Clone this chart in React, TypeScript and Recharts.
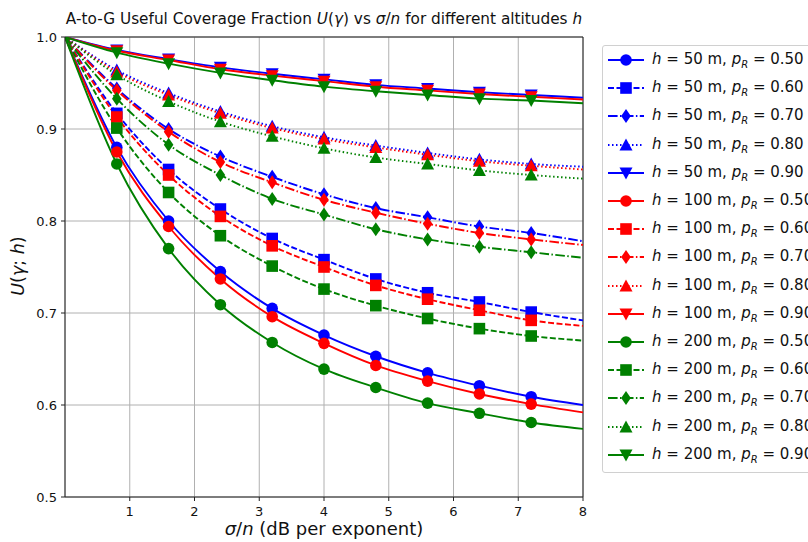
import React from "react";
import { CartesianGrid, Line, LineChart, ReferenceLine, XAxis, YAxis } from "recharts";

document.body.style.margin = "0";

// sigma/n sample points (markers drawn at the inner ones)
const X_VALUES = [0, 0.8, 1.6, 2.4, 3.2, 4.0, 4.8, 5.6, 6.4, 7.2, 8.0];

const ALTITUDES = [50, 100, 200];
const P_R = ["0.50", "0.60", "0.70", "0.80", "0.90"];

const h50_p50 = [1, 0.880, 0.800, 0.745, 0.705, 0.676, 0.653, 0.635, 0.621, 0.609, 0.600];
const h50_p60 = [1, 0.917, 0.856, 0.813, 0.781, 0.758, 0.737, 0.722, 0.712, 0.701, 0.692];
const h50_p70 = [1, 0.944, 0.900, 0.870, 0.848, 0.829, 0.814, 0.804, 0.794, 0.787, 0.778];
const h50_p80 = [1, 0.964, 0.939, 0.919, 0.903, 0.891, 0.882, 0.874, 0.867, 0.862, 0.859];
const h50_p90 = [1, 0.986, 0.976, 0.967, 0.960, 0.954, 0.948, 0.944, 0.940, 0.937, 0.934];

const h100_p50 = [1, 0.875, 0.794, 0.737, 0.696, 0.667, 0.643, 0.626, 0.612, 0.601, 0.592];
const h100_p60 = [1, 0.913, 0.850, 0.805, 0.773, 0.750, 0.730, 0.715, 0.703, 0.692, 0.686];
const h100_p70 = [1, 0.942, 0.897, 0.864, 0.842, 0.823, 0.809, 0.797, 0.787, 0.780, 0.774];
const h100_p80 = [1, 0.962, 0.937, 0.917, 0.901, 0.889, 0.880, 0.872, 0.865, 0.860, 0.856];
const h100_p90 = [1, 0.985, 0.975, 0.965, 0.958, 0.952, 0.946, 0.942, 0.938, 0.935, 0.932];

const h200_p50 = [1, 0.862, 0.770, 0.709, 0.668, 0.639, 0.619, 0.602, 0.591, 0.581, 0.574];
const h200_p60 = [1, 0.901, 0.831, 0.784, 0.751, 0.726, 0.708, 0.694, 0.683, 0.675, 0.670];
const h200_p70 = [1, 0.933, 0.883, 0.850, 0.824, 0.807, 0.791, 0.780, 0.772, 0.766, 0.760];
const h200_p80 = [1, 0.959, 0.930, 0.908, 0.892, 0.879, 0.869, 0.862, 0.855, 0.850, 0.846];
const h200_p90 = [1, 0.983, 0.971, 0.961, 0.953, 0.946, 0.941, 0.937, 0.933, 0.931, 0.928];

const SERIES_VALUES = [
  [h50_p50, h50_p60, h50_p70, h50_p80, h50_p90],
  [h100_p50, h100_p60, h100_p70, h100_p80, h100_p90],
  [h200_p50, h200_p60, h200_p70, h200_p80, h200_p90],
];

const X_TICKS = [1, 2, 3, 4, 5, 6, 7, 8];
const Y_TICKS = [0.5, 0.6, 0.7, 0.8, 0.9, 1.0];

const COLORS = ["#0000ff", "#ff0000", "#008000"];
const MARKERS = ["circle", "square", "diamond", "triangleUp", "triangleDown"];
const DASHES = [undefined, "6 2.5", "9.6 2.4 1.5 2.4", "1.5 2.5", undefined];

const FONT = "'DejaVu Sans', sans-serif";

type SeriesDef = { key: string; color: string; marker: string; dash?: string; h: number; p: string };

const series: SeriesDef[] = [];
ALTITUDES.forEach((h, hi) => {
  P_R.forEach((p, pi) => {
    series.push({ key: `h${h}_p${pi}`, color: COLORS[hi], marker: MARKERS[pi], dash: DASHES[pi], h, p });
  });
});

const data = X_VALUES.map((x, i) => {
  const row: Record<string, number> = { x };
  ALTITUDES.forEach((h, hi) => {
    P_R.forEach((_, pi) => {
      row[`h${h}_p${pi}`] = SERIES_VALUES[hi][pi][i];
    });
  });
  return row;
});

function Marker({ marker, color, cx, cy }: { marker: string; color: string; cx: number; cy: number }) {
  if (marker === "circle") return <circle cx={cx} cy={cy} r={5.8} fill={color} />;
  if (marker === "square") return <rect x={cx - 5.8} y={cy - 5.8} width={11.6} height={11.6} fill={color} />;
  if (marker === "diamond")
    return <polygon points={`${cx},${cy - 7} ${cx + 4.8},${cy} ${cx},${cy + 7} ${cx - 4.8},${cy}`} fill={color} />;
  if (marker === "triangleUp")
    return <polygon points={`${cx},${cy - 6.5} ${cx + 6.5},${cy + 5.5} ${cx - 6.5},${cy + 5.5}`} fill={color} />;
  return <polygon points={`${cx},${cy + 6.5} ${cx + 6.5},${cy - 5.5} ${cx - 6.5},${cy - 5.5}`} fill={color} />;
}

function makeDot(marker: string, color: string) {
  return (props: any) => {
    const { cx, cy, payload, index } = props;
    const key = `dot-${index}`;
    if (cx == null || cy == null || payload.x === 0 || payload.x === 8) return <g key={key} />;
    return (
      <g key={key}>
        <Marker marker={marker} color={color} cx={cx} cy={cy} />
      </g>
    );
  };
}

function LegendBox() {
  return (
    <div
      style={{
        position: "absolute",
        left: 602,
        top: 45,
        width: 240,
        height: 428,
        border: "1px solid #d0d0d0",
        borderRadius: 3,
        background: "#fff",
        boxSizing: "border-box",
        fontFamily: FONT,
        fontSize: 15,
        color: "#111",
      }}
    >
      {series.map((s, i) => (
        <div
          key={s.key}
          style={{ position: "absolute", left: 0, top: i * 28.2, height: 28, display: "flex", alignItems: "center" }}
        >
          <svg width={40} height={20} style={{ marginLeft: 4 }}>
            <line x1={1} y1={10} x2={37} y2={10} stroke={s.color} strokeWidth={1.8} strokeDasharray={s.dash} />
            <Marker marker={s.marker} color={s.color} cx={19} cy={10} />
          </svg>
          <span style={{ marginLeft: 5, whiteSpace: "nowrap" }}>
            <i>h</i> = {s.h} m, <i>p</i>
            <sub style={{ fontSize: 10, fontStyle: "italic" }}>R</sub> = {s.p}
          </span>
        </div>
      ))}
    </div>
  );
}

export default function App() {
  return (
    <div style={{ position: "relative", width: 808, height: 542, background: "#fff", overflow: "hidden", fontFamily: FONT }}>
      <div
        style={{
          position: "absolute",
          left: 65,
          width: 518,
          top: 10,
          textAlign: "center",
          fontSize: 15.3,
          color: "#111",
          whiteSpace: "nowrap",
        }}
      >
        A-to-G Useful Coverage Fraction <i>U</i>(<i>γ</i>) vs <i>σ</i>/<i>n</i> for different altitudes <i>h</i>
      </div>
      <div
        style={{
          position: "absolute",
          left: 18,
          top: 266,
          transform: "translate(-50%, -50%) rotate(-90deg)",
          fontSize: 17.5,
          color: "#111",
          whiteSpace: "nowrap",
        }}
      >
        <i>U</i>(<i>γ</i>; <i>h</i>)
      </div>
      <div
        style={{
          position: "absolute",
          left: 65,
          width: 518,
          top: 518,
          textAlign: "center",
          fontSize: 18,
          color: "#111",
          whiteSpace: "nowrap",
        }}
      >
        <i>σ</i>/<i>n</i> (dB per exponent)
      </div>
      <LineChart
        width={808}
        height={542}
        data={data}
        margin={{ top: 37, right: 225, bottom: 0, left: 0 }}
        style={{ position: "absolute", left: 0, top: 0 }}
      >
        <CartesianGrid stroke="#b0b0b0" strokeWidth={1} />
        <XAxis
          dataKey="x"
          type="number"
          domain={[0, 8]}
          ticks={X_TICKS}
          height={45}
          tickSize={4}
          tickMargin={6}
          stroke="#222"
          tick={{ fill: "#111", fontSize: 13, fontFamily: FONT }}
          allowDataOverflow
        />
        <YAxis
          type="number"
          domain={[0.5, 1]}
          ticks={Y_TICKS}
          width={65}
          tickSize={4}
          tickMargin={4}
          stroke="#222"
          tick={{ fill: "#111", fontSize: 13, fontFamily: FONT }}
          tickFormatter={(v: number) => v.toFixed(1)}
          allowDataOverflow
        />
        <ReferenceLine x={8} stroke="#222" strokeWidth={1} />
        <ReferenceLine y={1} stroke="#222" strokeWidth={1} />
        {series.map((s) => (
          <Line
            key={s.key}
            dataKey={s.key}
            type="monotone"
            stroke={s.color}
            strokeWidth={1.9}
            strokeDasharray={s.dash}
            dot={makeDot(s.marker, s.color)}
            activeDot={false}
            isAnimationActive={false}
          />
        ))}
      </LineChart>
      <LegendBox />
    </div>
  );
}
